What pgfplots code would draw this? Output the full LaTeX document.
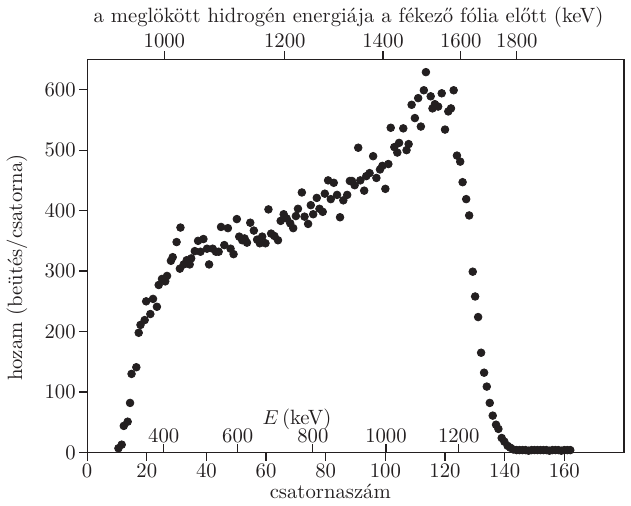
\documentclass[border=0pt]{standalone}
\usepackage{pgfplots}
\pgfplotsset{compat=1.18}
\definecolor{ink}{RGB}{35,31,32}

% channel, counts per channel
\pgfplotstableread{
ch y
10.5 7
11.6 13
12.3 44
13.6 51
14.4 82
14.9 130
16.5 141
17.3 198
17.9 211
19.3 219
19.8 250
21.2 229
22.1 254
23.4 241
24.0 277
25.1 287
26.2 283
26.8 292
28.1 317
28.7 323
30.0 348
31.1 304
31.3 372
32.4 311
33.4 318
34.4 311
34.9 321
36.1 333
37.2 350
38.0 332
39.0 353
40.2 337
40.9 311
42.1 337
43.2 332
44.1 332
44.9 373
46.0 343
47.2 371
48.1 337
49.1 328
50.2 386
51.0 357
52.0 351
52.8 354
53.6 347
54.7 380
55.9 367
57.0 352
57.9 346
58.7 357
59.8 346
60.8 402
61.7 362
62.8 358
64.0 351
64.9 383
65.9 394
66.9 387
68.1 379
69.1 371
70.0 391
70.7 403
72.0 430
72.9 390
74.1 378
75.0 409
75.8 394
77.0 421
77.9 403
79.0 398
79.7 428
80.8 450
81.7 419
82.7 446
83.8 426
84.8 389
85.9 417
87.2 426
88.1 449
88.8 449
89.7 442
90.9 504
91.6 450
92.9 433
93.6 457
94.7 462
95.9 490
97.0 454
98.2 468
99.0 474
100.0 436
101.0 477
101.8 537
103.0 505
104.0 496
104.6 512
106.0 536
107.1 500
107.8 510
108.8 575
109.9 553
111.0 586
111.9 539
112.9 599
113.6 629
115.2 589
115.8 569
116.6 576
117.7 572
118.9 594
120.0 534
121.1 564
122.0 569
122.9 599
124.0 491
125.1 481
125.9 447
127.1 419
128.1 392
129.3 299
130.1 258
131.1 224
132.1 165
133.1 132
134.0 109
135.0 82
136.0 61
137.1 46
137.9 39
139.0 24
139.9 18
141.0 11
141.9 8
142.9 5
144 4
145 4
146 4
147 4
148 3
149 4
150 4
151 4
152 4
153 4
154 4
155 3
156 4
157 4
158 4
159 3
160 4
161 4
162 4
}\spectrum

\begin{document}
\begin{tikzpicture}[font=\fontsize{10.3}{12.4}\selectfont]
\pgfplotsset{
  base/.style={
    scale only axis, width=267pt, xmin=0, xmax=180,
    /pgf/number format/assume math mode=true,
    axis line style={ink, line width=0.6pt},
    tick style={ink, line width=0.6pt},
    major tick length=4pt, tick align=outside,
    tick label style={inner sep=1.5pt, text=ink},
    label style={text=ink},
  },
}
% main axis: channel number vs yield
\begin{axis}[base, name=main, height=195.5pt, ymin=0, ymax=650,
  xtick={0,20,...,160}, ytick={0,100,...,600},
  xtick pos=bottom, ytick pos=left,
  xlabel={csatornaszám},
  xlabel style={at={(axis description cs:0.453,0)}, anchor=base, yshift=-23pt},
  ylabel={hozam (beütés/csatorna)},
  ylabel style={at={(axis description cs:-0.1305,0.47)}, anchor=center},
]
\addplot[only marks, mark=*, mark size=1.9pt, ink, mark options={fill=ink}]
  table[x=ch, y=y] {\spectrum};
\end{axis}

% top axis: energy of the recoil hydrogen before the foil
\begin{axis}[base, height=195.5pt, ymin=0, ymax=1,
  axis x line*=top, axis y line=none,
  xtick={25.9,66.3,99.2,125.3,144.1},
  xticklabels={1000,1200,1400,1600,1800},
  xlabel={a meglökött hidrogén energiája a fékező fólia előtt (keV)},
  xlabel style={at={(axis description cs:0.487,1)}, anchor=base, yshift=18.5pt},
]
\end{axis}

% inner energy scale sitting on the bottom line
\begin{axis}[base, height=10pt, at={(0,0)}, anchor=north west, ymin=0, ymax=1,
  axis x line*=top, axis y line=none,
  xtick={25.7,50.5,75.7,100.2,124.6},
  xticklabels={400,600,800,1000,1200},
  tick label style={inner sep=0.5pt},
  xlabel={$E$\,(keV)},
  xlabel style={at={(axis description cs:0.391,1)}, anchor=base, yshift=14pt, inner sep=1pt},
]
\end{axis}
% a little white space on the right, as in the original
\path (main.north east) ++(3.5pt,0);
\end{tikzpicture}
\end{document}
